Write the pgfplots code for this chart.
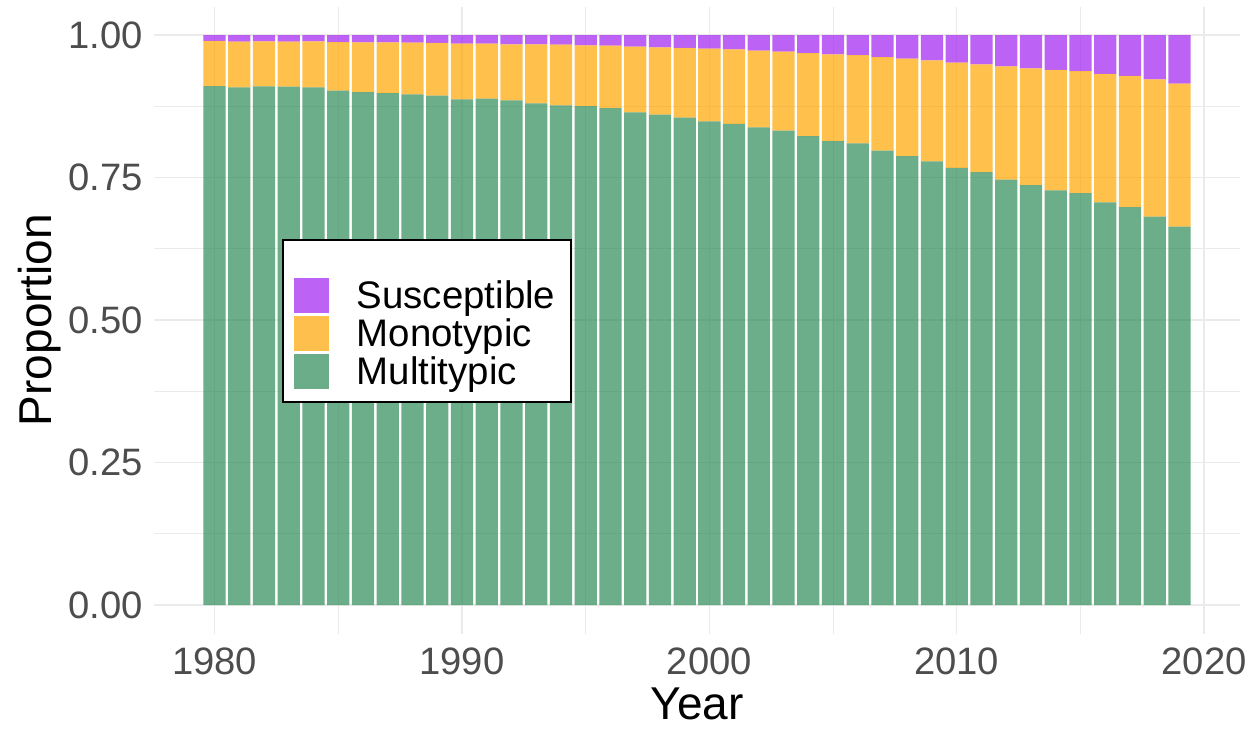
\documentclass[border=0pt]{standalone}
\usepackage{fontspec}
\setmainfont{Liberation Sans}
\usepackage{pgfplots}
\usepackage{pgfplotstable}
\pgfplotsset{compat=1.18}
\usetikzlibrary{calc}

\definecolor{seagreen}{RGB}{46,139,87}
\definecolor{rorange}{RGB}{255,165,0}
\definecolor{rpurple}{RGB}{160,32,240}
\definecolor{gridgray}{RGB}{235,235,235}
\definecolor{tickgray}{RGB}{77,77,77}

% proportion of each class per year
\pgfplotstableread{
year multi mono susc
1980 0.9105 0.0790 0.0105
1981 0.9082 0.0801 0.0117
1982 0.9099 0.0790 0.0111
1983 0.9094 0.0789 0.0117
1984 0.9082 0.0807 0.0111
1985 0.9023 0.0854 0.0123
1986 0.9000 0.0871 0.0129
1987 0.8982 0.0889 0.0129
1988 0.8959 0.0906 0.0135
1989 0.8936 0.0924 0.0140
1990 0.8871 0.0977 0.0152
1991 0.8883 0.0965 0.0152
1992 0.8854 0.0982 0.0164
1993 0.8801 0.1035 0.0164
1994 0.8766 0.1064 0.0170
1995 0.8754 0.1065 0.0181
1996 0.8719 0.1094 0.0187
1997 0.8643 0.1152 0.0205
1998 0.8602 0.1182 0.0216
1999 0.8550 0.1222 0.0228
2000 0.8485 0.1275 0.0240
2001 0.8439 0.1310 0.0251
2002 0.8380 0.1345 0.0275
2003 0.8322 0.1386 0.0292
2004 0.8228 0.1456 0.0316
2005 0.8140 0.1521 0.0339
2006 0.8100 0.1549 0.0351
2007 0.7970 0.1644 0.0386
2008 0.7877 0.1708 0.0415
2009 0.7781 0.1775 0.0444
2010 0.7670 0.1845 0.0485
2011 0.7596 0.1889 0.0515
2012 0.7462 0.1988 0.0550
2013 0.7368 0.2047 0.0585
2014 0.7275 0.2111 0.0614
2015 0.7228 0.2140 0.0632
2016 0.7064 0.2252 0.0684
2017 0.6982 0.2299 0.0719
2018 0.6813 0.2409 0.0778
2019 0.6637 0.2509 0.0854
}\propdata

\begin{document}
\begin{tikzpicture}
\begin{axis}[
    name=plot,
    scale only axis,
    width=543pt, height=313.5pt,
    ybar stacked,
    bar width=0.9,
    xmin=1977.55, xmax=2021.45,
    ymin=-0.05, ymax=1.05,
    xtick={1980,1990,2000,2010,2020},
    minor xtick={1985,1995,2005,2015},
    ytick={0,0.25,0.5,0.75,1},
    minor ytick={0.125,0.375,0.625,0.875},
    grid=both,
    major grid style={draw=gridgray, line width=0.7pt},
    minor grid style={draw=gridgray, line width=0.35pt},
    axis line style={draw=none},
    major tick length=0pt, minor tick length=0pt,
    tick style={draw=none},
    /pgf/number format/assume math mode=true,
    x tick label style={/pgf/number format/1000 sep={}},
    y tick label style={/pgf/number format/fixed,
        /pgf/number format/fixed zerofill,
        /pgf/number format/precision=2},
    xticklabel style={font=\fontsize{19.1}{22}\selectfont, text=tickgray,
        inner sep=0pt, anchor=north, yshift=-6.75pt},
    yticklabel style={font=\fontsize{19.1}{22}\selectfont, text=tickgray,
        inner sep=0pt, anchor=east, xshift=-5.5pt},
    xlabel={Year},
    ylabel={Proportion},
    xlabel style={font=\fontsize{23}{27}\selectfont, at={(rel axis cs:0.5,0)},
        anchor=base, yshift=-42.9pt},
    ylabel style={font=\fontsize{23}{27}\selectfont,
        at={($(rel axis cs:0,0.5)+(-51.15pt,0pt)$)}, anchor=base},
    legend image code/.code={\fill[#1] (0pt,-8.75pt) rectangle (17.5pt,8.75pt);},
    reverse legend,
    legend cell align=left,
    legend style={at={(rel axis cs:0.1176,0.6287)}, anchor=north west,
        draw=black, line width=0.9pt, fill=white,
        inner xsep=5.75pt, inner ysep=5.8pt, row sep=0pt,
        font=\fontsize{19.2}{22}\selectfont,
        nodes={inner sep=0pt, text height=16.2pt, text depth=2.8pt,
            text width=101.5pt},
        /tikz/every odd column/.append style={column sep=13.85pt}},
]
\addplot[fill=seagreen, fill opacity=0.7, draw=none] table[x=year, y=multi] {\propdata};
\addlegendentry{Multitypic}
\addplot[fill=rorange, fill opacity=0.7, draw=none] table[x=year, y=mono] {\propdata};
\addlegendentry{Monotypic}
\addplot[fill=rpurple, fill opacity=0.7, draw=none] table[x=year, y=susc] {\propdata};
\addlegendentry{Susceptible}
\addlegendimage{empty legend}
\addlegendentry[text height=12.2pt, text depth=0pt]{}
\end{axis}
\pgfresetboundingbox
\path ([xshift=-77pt, yshift=-47.75pt]plot.south west)
    rectangle ([xshift=9pt, yshift=3.25pt]plot.north east);
\end{tikzpicture}
\end{document}
